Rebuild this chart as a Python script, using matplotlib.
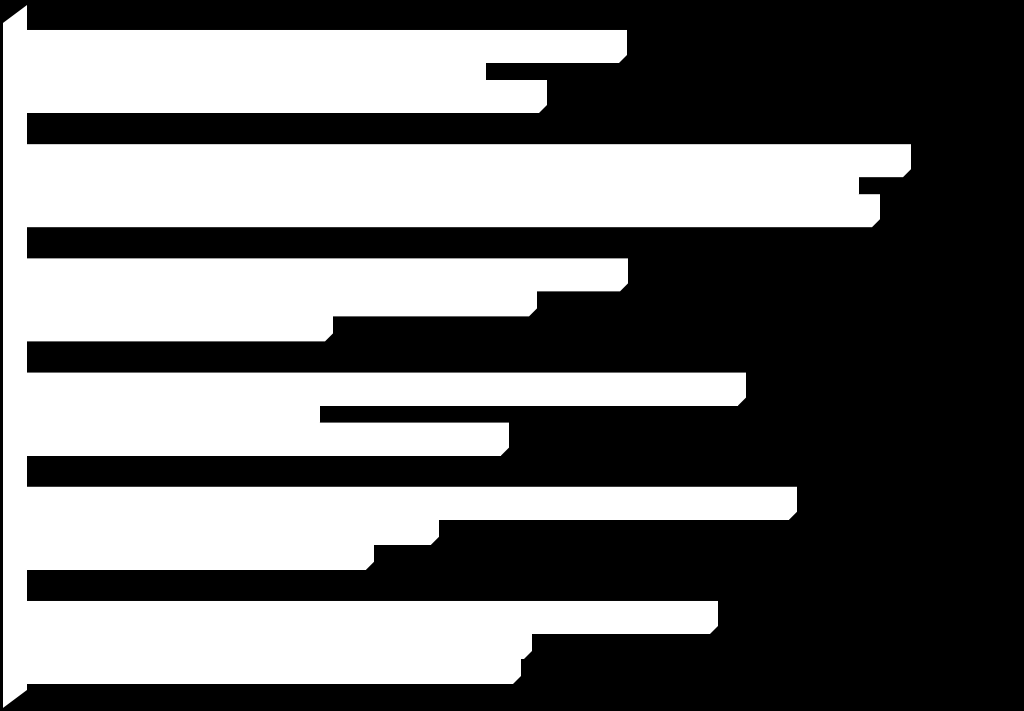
import matplotlib
matplotlib.use("Agg")
import matplotlib.pyplot as plt
from matplotlib.patches import Polygon
import numpy as np

# six categories, three series each
categories = ["1", "2", "3", "4", "5", "6"]
series_a = [59.2, 87.6, 59.3, 71.1, 76.2, 68.3]
series_b = [45.1, 82.4, 50.2, 28.5, 40.4, 49.7]
series_c = [51.2, 84.5, 29.8, 47.4, 33.9, 48.6]

bar_h = 0.219      # front face height (category units)
depth_x = 0.8      # 3d depth offset of the bars
depth_y = 0.07
wall_x = 2.4       # left wall depth
wall_top = -0.46
wall_bottom = 5.538
wall_dy = 0.157

fig = plt.figure(figsize=(10.24, 7.11), dpi=100, facecolor="black")
ax = fig.add_axes([0, 0, 1, 1])
ax.set_facecolor("black")
ax.set_xlim(-2.7, 99.7)
ax.set_ylim(5.565, -0.661)
ax.axis("off")

# side wall
ax.add_patch(Polygon([(-wall_x, wall_top), (0, wall_top - wall_dy),
                      (0, wall_bottom - wall_dy), (-wall_x, wall_bottom)],
                     closed=True, facecolor="white", edgecolor="none"))

y = np.arange(len(categories))
for k, vals in enumerate([series_a, series_b, series_c]):
    yc = y + (k - 1) * bar_h
    ax.barh(yc, vals, height=bar_h, left=0, color="white", edgecolor="none")
    for yy, v in zip(yc, vals):
        y0 = yy - bar_h / 2
        y1 = yy + bar_h / 2
        # whole outline of the 3d bar (front, top and end faces) so no seams show
        ax.add_patch(Polygon([(0, y1), (0, y0 - depth_y), (v + depth_x, y0 - depth_y),
                              (v + depth_x, y1 - depth_y), (v, y1)],
                             closed=True, facecolor="white", edgecolor="none"))

fig.savefig("out.png", dpi=100, facecolor="black")
